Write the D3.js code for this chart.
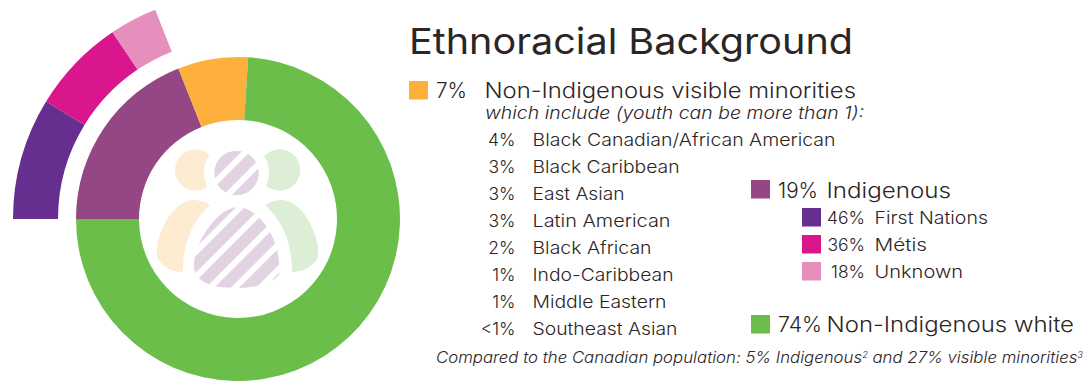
<!DOCTYPE html>
<html><head><meta charset="utf-8">
<script src="https://cdn.jsdelivr.net/npm/d3@7/dist/d3.min.js"></script>
<style>html,body{margin:0;padding:0;background:#fff}svg{display:block}text{font-family:Inter,"Noto Sans",sans-serif;fill:#2b2526;font-weight:300}</style>
</head><body><svg id="c" width="1089" height="391"></svg>
<script>
const mainLabels=["Indigenous","Non-Indigenous visible minorities","Non-Indigenous white"];
const mainValues=[19,7,74];
const mainColors=["#954684","#fdb03b","#6cbe4a"];
const subLabels=["First Nations","Métis","Unknown"];
const subValues=[46,36,18];
const subColors=["#662e8f","#d9168c","#e68fbd"];
const minorityLabels=["Black Canadian/African American","Black Caribbean","East Asian","Latin American","Black African","Indo-Caribbean","Middle Eastern","Southeast Asian"];
const minorityValues=["4%","3%","3%","3%","2%","1%","1%","<1%"];
const minorityWidths=[303,147,92,138,119,141,134,145];

const svg=d3.select("#c");
const cx=238,cy=219,TAU=Math.PI*2;
const pie=d3.pie().sort(null).value(d=>d).startAngle(-TAU/4).endAngle(TAU*3/4);
const mainArcs=pie(mainValues);
const arcMain=d3.arc().innerRadius(99).outerRadius(162);
const g=svg.append("g").attr("transform",`translate(${cx},${cy})`);
g.selectAll("path.m").data(mainArcs).join("path").attr("class","m").attr("d",arcMain).attr("fill",(d,i)=>mainColors[i]);
const subPie=d3.pie().sort(null).value(d=>d).startAngle(mainArcs[0].startAngle).endAngle(mainArcs[0].endAngle);
const arcSub=d3.arc().innerRadius(180).outerRadius(225);
g.selectAll("path.s").data(subPie(subValues)).join("path").attr("class","s").attr("d",arcSub).attr("fill",(d,i)=>subColors[i]);

// centre icon
const defs=svg.append("defs");
const pat=defs.append("pattern").attr("id","hatch").attr("patternUnits","userSpaceOnUse").attr("width",17.7).attr("height",17.7)
  .attr("patternTransform","translate(230 171.7) rotate(45)");
pat.append("rect").attr("x",0).attr("y",0).attr("width",11.8).attr("height",17.7).attr("fill","#e2d3e3");
const peach="#fdebd2",mint="#dceed5";
svg.append("circle").attr("cx",195.7).attr("cy",170).attr("r",20.7).attr("fill",peach);
svg.append("circle").attr("cx",279.5).attr("cy",170).attr("r",20.7).attr("fill",mint);
svg.append("circle").attr("cx",236.5).attr("cy",173).attr("r",32.5).attr("fill","#fff");
svg.append("circle").attr("cx",236.5).attr("cy",173).attr("r",22.3).attr("fill","url(#hatch)");
svg.append("path").attr("d","M210,205 C204,201 198,200 192,200 C172,203 161,228 157,245 L157,258 C163,267 172,272 183,272 C183,245 190,224 210,205Z").attr("fill",peach);
svg.append("path").attr("d","M265,205 C271,201 277,200 283,200 C303,203 314,228 318,245 L318,258 C312,267 303,272 292,272 C292,245 285,224 265,205Z").attr("fill",mint);
svg.append("path").attr("d","M238,207 C255,207 277,232 279,262 L280,272 C279,280 262,287 240,288 C222,288 205,286 198,277 C194,272 194,268 194,262 C197,237 220,207 238,207Z").attr("fill","url(#hatch)");

function put(x,y,size,str,width,opt={}){
  const t=svg.append("text").attr("x",x).attr("y",y).attr("font-size",size).text(str);
  if(opt.italic)t.attr("font-style","italic");
  if(opt.anchor)t.attr("text-anchor",opt.anchor);
  if(opt.weight)t.style("font-weight",opt.weight);
  if(width)t.attr("textLength",width).attr("lengthAdjust","spacingAndGlyphs");
  return t;
}
function sw(x,y,c){svg.append("rect").attr("x",x).attr("y",y).attr("width",19).attr("height",18.5).attr("fill",c);}

put(409,54,36,"Ethnoracial Background",444,{weight:400});

sw(409,81,mainColors[1]);
put(436,98,21,mainValues[1]+"%",31);
put(484.5,98,21.5,mainLabels[1],371.5);
put(485,119,17,"which include (youth can be more than 1):",379,{italic:true});
minorityLabels.forEach((l,i)=>{
  const y=146+27*i;
  put(515.5,y,17.5,minorityValues[i],null,{anchor:"end"});
  put(532.5,y,17.5,l,minorityWidths[i]);
});

sw(751,180,mainColors[0]);
put(778,198,21,mainValues[0]+"%",40);
put(826.5,198,21,mainLabels[0],124.5);
subLabels.forEach((l,i)=>{
  const y=224+27*i;
  sw(802,208+27*i,subColors[i]);
  put(865,y,17.5,subValues[i]+"%",null,{anchor:"end"});
  put(874.5,y,17.5,l,[113.5,52.5,88.5][i]);
});
sw(751,315,mainColors[2]);
put(778,332,21,mainValues[2]+"%",44);
put(826.5,332,21,mainLabels[2],247.5);

const foot=svg.append("text").attr("x",436).attr("y",363).attr("font-size",15.5).attr("font-style","italic")
  .attr("textLength",647).attr("lengthAdjust","spacingAndGlyphs");
foot.append("tspan").text("Compared to the Canadian population: 5% Indigenous");
foot.append("tspan").attr("dy",-5).attr("font-size",8.5).text("2");
foot.append("tspan").attr("dy",5).text(" and 27% visible minorities");
foot.append("tspan").attr("dy",-5).attr("font-size",8.5).text("3");
</script></body></html>
